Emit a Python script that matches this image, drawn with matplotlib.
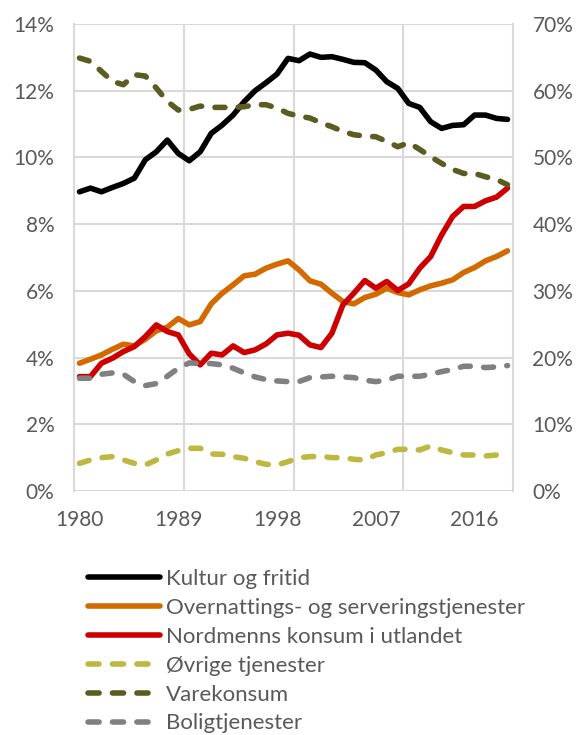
import matplotlib
matplotlib.use("Agg")
import matplotlib.pyplot as plt
from matplotlib.lines import Line2D
from matplotlib.ticker import FixedLocator, FuncFormatter

plt.rcParams['font.family'] = ['Lato', 'DejaVu Sans']

years = list(range(1980, 2020))

# venstre akse (%)
kultur = [8.97, 9.08, 8.97, 9.10, 9.22, 9.38, 9.93, 10.17, 10.52, 10.12,
          9.90, 10.17, 10.72, 10.97, 11.27, 11.67, 12.00, 12.24, 12.50, 12.97,
          12.90, 13.10, 13.00, 13.02, 12.94, 12.85, 12.84, 12.62, 12.27, 12.07,
          11.62, 11.50, 11.07, 10.87, 10.96, 10.98, 11.27, 11.27, 11.17, 11.14]
overnatting = [3.83, 3.95, 4.08, 4.25, 4.40, 4.35, 4.55, 4.80, 4.91, 5.17,
               4.98, 5.08, 5.61, 5.93, 6.18, 6.45, 6.50, 6.68, 6.80, 6.90,
               6.63, 6.30, 6.20, 5.93, 5.68, 5.61, 5.80, 5.90, 6.08, 5.95,
               5.88, 6.03, 6.15, 6.23, 6.33, 6.55, 6.70, 6.90, 7.03, 7.20]
utlandet = [3.43, 3.43, 3.83, 3.98, 4.18, 4.33, 4.63, 4.98, 4.78, 4.68,
            4.11, 3.78, 4.13, 4.08, 4.35, 4.15, 4.23, 4.41, 4.68, 4.73,
            4.67, 4.38, 4.30, 4.73, 5.58, 5.93, 6.31, 6.08, 6.28, 6.01,
            6.21, 6.68, 7.03, 7.68, 8.23, 8.53, 8.53, 8.70, 8.81, 9.08]

# høyre akse (%)
ovrige = [4.15, 4.65, 5.00, 5.15, 4.65, 4.15, 3.90, 4.65, 5.55, 6.05,
          6.40, 6.40, 5.55, 5.50, 5.15, 4.90, 4.40, 4.00, 3.90, 4.40,
          5.00, 5.15, 5.20, 5.00, 5.00, 4.75, 4.65, 5.40, 5.75, 6.25,
          6.25, 6.15, 6.75, 6.15, 5.75, 5.40, 5.40, 5.25, 5.40, 5.55]
varekonsum = [64.9, 64.4, 62.9, 61.4, 60.9, 62.4, 62.2, 60.4, 58.4, 57.1,
              57.2, 57.7, 57.5, 57.5, 57.5, 57.6, 57.9, 57.9, 57.4, 56.6,
              56.2, 55.9, 55.2, 54.6, 53.9, 53.4, 53.2, 53.1, 52.4, 51.6,
              52.2, 51.2, 50.1, 49.1, 48.2, 47.6, 47.6, 47.1, 46.7, 45.9]
bolig = [16.9, 16.9, 17.5, 17.7, 17.5, 16.4, 15.8, 16.1, 17.2, 18.4,
         19.2, 19.1, 19.1, 18.9, 18.4, 17.7, 17.1, 16.7, 16.5, 16.4,
         16.4, 17.0, 17.1, 17.2, 17.1, 17.0, 16.6, 16.4, 16.6, 17.2,
         17.2, 17.2, 17.5, 17.9, 18.2, 18.7, 18.7, 18.5, 18.6, 18.8]

labels = ['Kultur og fritid', 'Overnattings- og serveringstjenester',
          'Nordmenns konsum i utlandet', 'Øvrige tjenester', 'Varekonsum',
          'Boligtjenester']
colors = ['black', '#D26A00', '#CC0000', '#BDB83F', '#5C5C22', '#808080']

txt = '#595959'
grid = '#D9D9D9'
lw = 4
dash = (0, (1.8, 2.4))
dash_leg = (0, (2.0, 2.4))

fig = plt.figure(figsize=(5.82, 7.35), dpi=100)
ax = fig.add_axes([74 / 582, 244 / 735, 439 / 582, 467 / 735])
ax2 = ax.twinx()

ax.plot(years, kultur, color=colors[0], lw=lw, solid_capstyle='round')
ax.plot(years, overnatting, color=colors[1], lw=lw, solid_capstyle='round')
ax.plot(years, utlandet, color=colors[2], lw=lw, solid_capstyle='round')
ax2.plot(years, ovrige, color=colors[3], lw=lw, ls=dash, dash_capstyle='round')
ax2.plot(years, varekonsum, color=colors[4], lw=lw, ls=dash, dash_capstyle='round')
ax2.plot(years, bolig, color=colors[5], lw=lw, ls=dash, dash_capstyle='round')

ax.set_xlim(1979.5, 2019.5)
ax.set_ylim(0, 14)
ax2.set_ylim(0, 70)
ax.set_yticks(range(0, 15, 2))
ax2.set_yticks(range(0, 71, 10))
ax.yaxis.set_major_formatter(FuncFormatter(lambda v, p: f'{v:.0f}%'))
ax2.yaxis.set_major_formatter(FuncFormatter(lambda v, p: f'{v:.0f}%'))
ax.set_xticks([1980, 1989, 1998, 2007, 2016])
ax.xaxis.set_minor_locator(FixedLocator([1989.5, 1999.5, 2009.5]))

ax.grid(True, axis='y', color=grid, lw=1.5)
ax.grid(True, axis='x', which='minor', color=grid, lw=1.5)
for xe in (1979.5, 2019.5):
    ax.axvline(xe, color=grid, lw=1.5, clip_on=False, zorder=0.5)
ax.set_axisbelow(True)
for a in (ax, ax2):
    for s in a.spines.values():
        s.set_visible(False)
ax.tick_params(axis='both', which='both', length=0, labelsize=15, labelcolor=txt)
ax.tick_params(axis='y', pad=14)
ax.tick_params(axis='x', pad=14)
ax2.tick_params(axis='y', length=0, labelsize=15, labelcolor=txt, pad=14)

# legend handles
handles = []
for i, c in enumerate(colors):
    if i < 3:
        handles.append(Line2D([], [], color=c, lw=lw, solid_capstyle='round'))
    else:
        handles.append(Line2D([], [], color=c, lw=lw, ls=dash_leg,
                              dash_capstyle='round'))

fig.legend(handles=handles, labels=labels, loc='upper left',
           bbox_to_anchor=(88 / 582, 1 - 569 / 735), frameon=False,
           fontsize=16, labelcolor=txt, handlelength=3.25, handletextpad=0.27,
           labelspacing=0.4, borderpad=0, borderaxespad=0)

fig.savefig('out.png', dpi=100)
